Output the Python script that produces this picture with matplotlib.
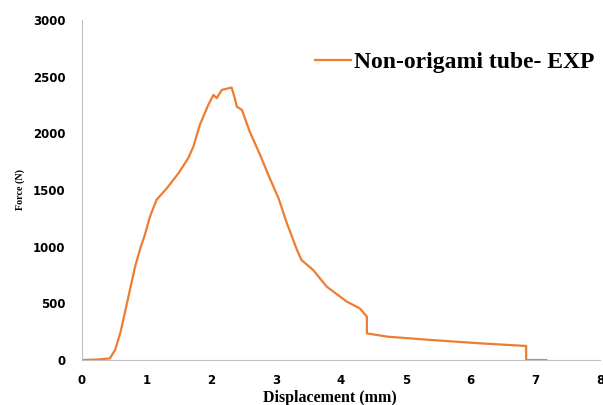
import matplotlib.pyplot as plt

# displacement (mm) and force (N)
disp = [0.0, 0.28, 0.43, 0.51, 0.59, 0.66, 0.74, 0.82, 0.90, 0.97, 1.05,
        1.15, 1.31, 1.49, 1.64, 1.72, 1.82, 1.95, 2.03, 2.08, 2.16, 2.31,
        2.36, 2.39, 2.47, 2.59, 2.75, 2.90, 3.04, 3.16, 3.32, 3.39, 3.57,
        3.78, 4.09, 4.29, 4.40, 4.40, 4.72, 5.39, 6.16, 6.86, 6.86, 7.17]
force = [0, 6, 15, 88, 235, 412, 618, 824, 985, 1103, 1265,
         1412, 1515, 1647, 1780, 1882, 2074, 2250, 2338, 2309, 2382, 2403,
         2309, 2235, 2206, 2015, 1809, 1603, 1420, 1213, 971, 882, 794,
         647, 515, 456, 382, 235, 206, 177, 147, 124, 0, 0]

series_label = 'Non-origami tube- EXP'
x_ticks = [0, 1, 2, 3, 4, 5, 6, 7, 8]
y_ticks = [0, 500, 1000, 1500, 2000, 2500, 3000]

fig = plt.figure(figsize=(6.03, 4.05), dpi=100)
ax = fig.add_axes([0.136, 0.111, 0.859, 0.840])

ax.plot(disp, force, color='#ED7D31', lw=1.6, label=series_label)

ax.set_xlim(0, 8)
ax.set_ylim(0, 3000)
ax.set_xticks(x_ticks)
ax.set_yticks(y_ticks)
ax.tick_params(length=0, labelsize=8.5, colors='black')
ax.tick_params(axis='y', pad=12)
ax.tick_params(axis='x', pad=10)
for lab in ax.get_xticklabels() + ax.get_yticklabels():
    lab.set_fontweight('bold')

for s in ['top', 'right']:
    ax.spines[s].set_visible(False)
ax.spines['left'].set_color('#BFBFBF')
ax.spines['bottom'].set_color('#BFBFBF')

ax.set_xlabel('Displacement (mm)', family='Liberation Serif', fontweight='bold', fontsize=11.5)
ax.set_ylabel('Force (N)', family='Liberation Serif', fontweight='bold', fontsize=7.2)
ax.xaxis.set_label_coords(0.479, -0.088)
ax.yaxis.set_label_coords(-0.11, 0.5)

leg = ax.legend(loc='center left', bbox_to_anchor=(0.450, 0.874), frameon=False,
                borderpad=0, borderaxespad=0, handlelength=1.5, handletextpad=0.15,
                prop={'family': 'Liberation Serif', 'weight': 'bold', 'size': 17})

fig.savefig('out.png', dpi=100)
